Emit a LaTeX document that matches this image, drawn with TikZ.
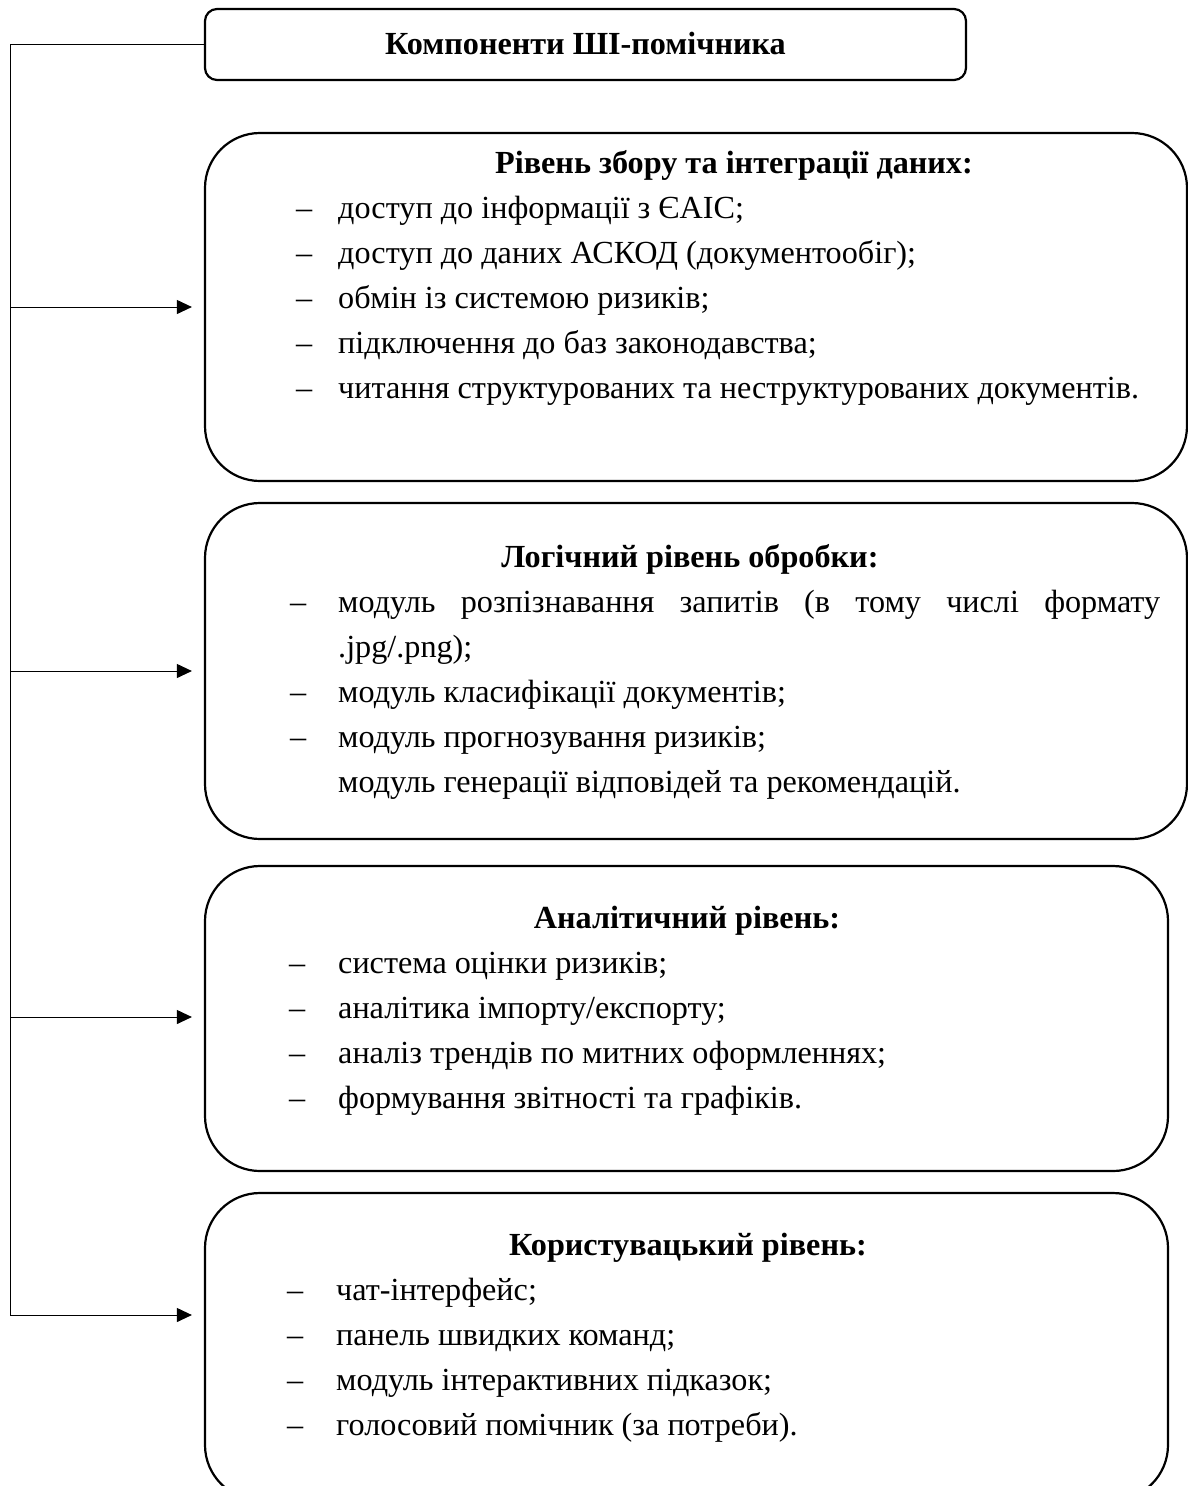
\documentclass[tikz,border=0pt]{standalone}
\usepackage{fontspec}
\setmainfont{Liberation Serif}
\usetikzlibrary{arrows.meta}
\begin{document}
\begin{tikzpicture}[x=1pt,y=-1pt,
  box/.style={draw, line width=2.2pt, rounded corners=55pt, inner sep=0pt},
  topbox/.style={draw, line width=2.2pt, rounded corners=12pt, inner sep=0pt},
  txt/.style={font=\fontsize{32.2}{45}\selectfont, inner sep=0pt, anchor=base west},
  dsh/.style={font=\fontsize{32.2}{45}\selectfont, inner sep=0pt, anchor=base west},
  hd/.style={font=\fontsize{32.2}{45}\selectfont\bfseries, inner sep=0pt, anchor=base},
  conn/.style={line width=1pt},
  arr/.style={line width=1pt, -{Triangle[length=15pt,width=14pt]}, shorten >=12pt}]
\useasboundingbox (0,0) rectangle (1187,1486);
\fill[white] (0,0) rectangle (1187,1486);

% boxes
\node[topbox, minimum width=761pt, minimum height=71pt] (top) at (585.5,44.5) {};
\node[box, minimum width=982pt, minimum height=348pt] (b1) at (696,307) {};
\node[box, minimum width=982pt, minimum height=336pt] (b2) at (696,671) {};
\node[box, minimum width=963pt, minimum height=305pt] (b3) at (686.5,1018.5) {};
\node[box, minimum width=963pt, minimum height=307pt] (b4) at (686.5,1346.5) {};

% title
\node[hd] (tt) at (585.5,54) {Компоненти ШІ-помічника};

% box 1
\node[hd] (h1) at (734,173) {Рівень збору та інтеграції даних:};
\node[dsh] (d11) at (296,218) {–};
\node[txt] (t11) at (338,218) {доступ до інформації з ЄАІС;};
\node[dsh] (d12) at (296,263) {–};
\node[txt] (t12) at (338,263) {доступ до даних АСКОД (документообіг);};
\node[dsh] (d13) at (296,308) {–};
\node[txt] (t13) at (338,308) {обмін із системою ризиків;};
\node[dsh] (d14) at (296,353) {–};
\node[txt] (t14) at (338,353) {підключення до баз законодавства;};
\node[dsh] (d15) at (296,398) {–};
\node[txt] (t15) at (338,398) {читання структурованих та неструктурованих документів.};

% box 2
\node[hd] (h2) at (690,567) {Логічний рівень обробки:};
\node[dsh] (d21) at (290,612) {–};
\node[txt] (t21) at (338,612) {\hbox to 822pt{модуль\hfill розпізнавання\hfill запитів\hfill (в\hfill тому\hfill числі\hfill формату}};
\node[txt] (t21b) at (338,657) {.jpg/.png);};
\node[dsh] (d22) at (290,702) {–};
\node[txt] (t22) at (338,702) {модуль класифікації документів;};
\node[dsh] (d23) at (290,747) {–};
\node[txt] (t23) at (338,747) {модуль прогнозування ризиків;};
\node[txt] (t24) at (338,792) {модуль генерації відповідей та рекомендацій.};

% box 3
\node[hd] (h3) at (687,928) {Аналітичний рівень:};
\node[dsh] (d31) at (289,973) {–};
\node[txt] (t31) at (338,973) {система оцінки ризиків;};
\node[dsh] (d32) at (289,1018) {–};
\node[txt] (t32) at (338,1018) {аналітика імпорту/експорту;};
\node[dsh] (d33) at (289,1063) {–};
\node[txt] (t33) at (338,1063) {аналіз трендів по митних оформленнях;};
\node[dsh] (d34) at (289,1108) {–};
\node[txt] (t34) at (338,1108) {формування звітності та графіків.};

% box 4
\node[hd] (h4) at (688,1255) {Користувацький рівень:};
\node[dsh] (d41) at (287,1300) {–};
\node[txt] (t41) at (336,1300) {чат-інтерфейс;};
\node[dsh] (d42) at (287,1345) {–};
\node[txt] (t42) at (336,1345) {панель швидких команд;};
\node[dsh] (d43) at (287,1390) {–};
\node[txt] (t43) at (336,1390) {модуль інтерактивних підказок;};
\node[dsh] (d44) at (287,1435) {–};
\node[txt] (t44) at (336,1435) {голосовий помічник (за потреби).};

% connectors
\coordinate (j1) at (10,307);
\coordinate (j2) at (10,671);
\coordinate (j3) at (10,1017);
\coordinate (j4) at (10,1315);
\draw[conn] (top.west) -| (j4);
\draw[arr] (j1) -- (b1.west |- j1);
\draw[arr] (j2) -- (b2.west |- j2);
\draw[arr] (j3) -- (b3.west |- j3);
\draw[arr] (j4) -- (b4.west |- j4);
\end{tikzpicture}
\end{document}
